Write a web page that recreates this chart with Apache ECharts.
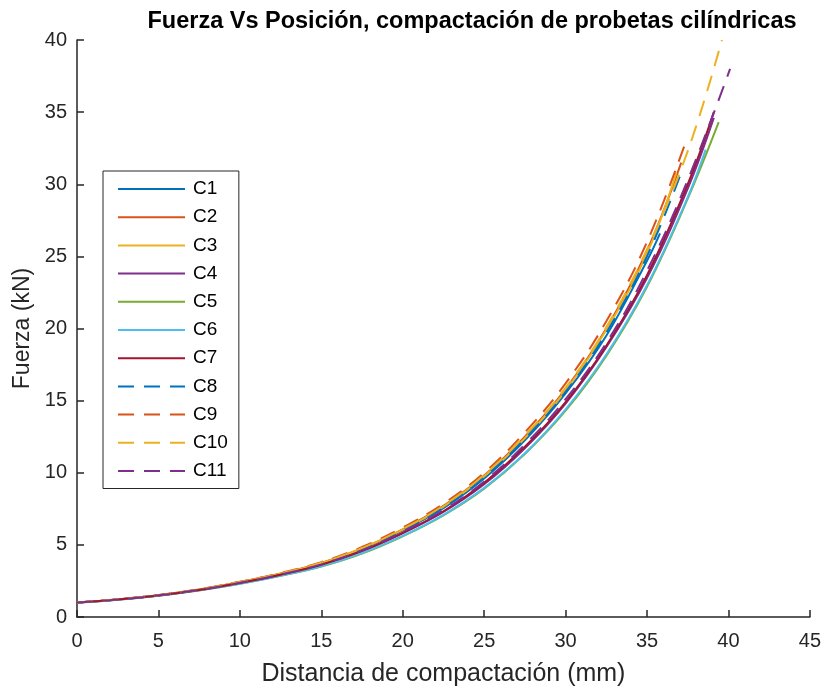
<!DOCTYPE html>
<html>
<head>
<meta charset="utf-8">
<script src="https://cdn.jsdelivr.net/npm/echarts@6/dist/echarts.min.js"></script>
<style>html,body{margin:0;padding:0;background:#fff}#c{width:824px;height:692px}</style>
</head>
<body>
<div id="c"></div>
<script>
// Shared x grid (mm)
const positions = [0, 2.5, 5, 7.5, 10, 12.5, 15, 17.5, 20, 22.5, 25, 27.5, 30, 32.5, 35, 37.5];
const seriesNames = ['C1','C2','C3','C4','C5','C6','C7','C8','C9','C10','C11'];
// Force values (kN) on the grid, one array per specimen
const C1  = [1.0,1.22,1.5,1.89,2.4,2.98,3.7,4.7,6.0,7.55,9.6,12.25,15.5,19.5,24.7];
const C2  = [1.0,1.22,1.51,1.9,2.42,3.01,3.74,4.76,6.08,7.7,9.8,12.5,15.8,20.0,25.4];
const C3  = [1.0,1.22,1.51,1.9,2.42,3.0,3.73,4.75,6.05,7.65,9.75,12.4,15.7,19.9,25.2];
const C4  = [1.0,1.21,1.49,1.87,2.35,2.92,3.6,4.55,5.8,7.28,9.2,11.7,14.8,18.7,23.5,29.7];
const C5  = [1.0,1.2,1.48,1.84,2.3,2.85,3.5,4.4,5.6,7.05,8.9,11.3,14.3,18.1,22.9,29.0];
const C6  = [1.0,1.2,1.48,1.85,2.31,2.86,3.52,4.43,5.62,7.08,8.95,11.35,14.4,18.2,23.0,29.1];
const C7  = [1.0,1.21,1.49,1.87,2.36,2.93,3.62,4.58,5.85,7.33,9.3,11.8,14.9,18.8,23.7,30.0];
const C8  = [1.0,1.22,1.51,1.9,2.41,2.99,3.72,4.72,6.02,7.6,9.7,12.35,15.6,19.7,25.0];
const C9  = [1.0,1.23,1.52,1.92,2.45,3.05,3.8,4.85,6.2,7.85,10.0,12.8,16.2,20.5,26.0];
const C10 = [1.0,1.23,1.51,1.91,2.43,3.02,3.76,4.78,6.1,7.73,9.85,12.6,15.9,20.1,25.5,32.3];
const C11 = [1.0,1.21,1.5,1.88,2.37,2.95,3.65,4.62,5.9,7.4,9.4,11.95,15.1,19.0,24.0,30.3];
// Final recorded point of each specimen [mm, kN]
const endX = [35.8, 37.1, 36.8, 39.1, 39.4, 38.6, 39.1, 37.1, 37.4, 39.6, 40.1];
const endY = [26.6, 31.5, 30.8, 34.6, 34.3, 32.4, 35.0, 30.8, 33.0, 40.0, 38.0];
const xTicks = [0,5,10,15,20,25,30,35,40,45];
const yTicks = [0,5,10,15,20,25,30,35,40];

const values = [C1,C2,C3,C4,C5,C6,C7,C8,C9,C10,C11];
const colors = ['#0072BD','#D95319','#EDB120','#7E2F8E','#77AC30','#4DBEEE','#A2142F','#0072BD','#D95319','#EDB120','#7E2F8E'];

const series = seriesNames.map((n, i) => {
  const data = values[i].map((v, k) => [positions[k], v]);
  data.push([endX[i], endY[i]]);
  return {
    name: n, type: 'line', data: data, smooth: 0.4, symbol: 'none', showSymbol: false,
    lineStyle: { color: colors[i], width: 2, type: i >= 7 ? [16, 10] : 'solid' },
    itemStyle: { color: colors[i] },
    z: 2 + i
  };
});

const txt = '#262626';
const chart = echarts.init(document.getElementById('c'));
chart.setOption({
  animation: false,
  color: colors,
  title: {
    text: 'Fuerza Vs Posición, compactación de probetas cilíndricas',
    left: 467, top: 5, textAlign: 'center',
    textStyle: { fontFamily: 'Liberation Sans', fontWeight: 'bold', fontSize: 23.5, color: '#000' }
  },
  grid: { left: 77, right: 12, top: 40, bottom: 73, containLabel: false },
  legend: {
    data: seriesNames, orient: 'vertical', left: 103, top: 171,
    itemWidth: 67, itemHeight: 14, itemGap: 9.2,
    padding: [8.5, 11, 8, 14],
    itemStyle: { opacity: 0 },
    borderColor: '#262626', borderWidth: 1, backgroundColor: '#fff',
    textStyle: { fontFamily: 'Liberation Sans', fontSize: 19, color: '#000', padding: [0,0,0,3] }
  },
  xAxis: {
    type: 'value', min: 0, max: 45, interval: 5,
    name: 'Distancia de compactación (mm)', nameLocation: 'middle', nameGap: 45,
    nameTextStyle: { fontFamily: 'Liberation Sans', fontSize: 25, color: txt },
    axisLine: { show: true, lineStyle: { color: txt, width: 1.5 } },
    axisTick: { show: true, inside: true, length: 7, lineStyle: { color: txt, width: 1.5 } },
    axisLabel: { fontFamily: 'Liberation Sans', fontSize: 20, color: txt, margin: 14,
      formatter: v => xTicks.includes(v) ? String(v) : '' },
    splitLine: { show: false }
  },
  yAxis: {
    type: 'value', min: 0, max: 40, interval: 5,
    name: 'Fuerza (kN)', nameLocation: 'middle', nameGap: 42, nameRotate: 90,
    nameTextStyle: { fontFamily: 'Liberation Sans', fontSize: 23, color: txt },
    axisLine: { show: true, lineStyle: { color: txt, width: 1.5 } },
    axisTick: { show: true, inside: true, length: 7, lineStyle: { color: txt, width: 1.5 } },
    axisLabel: { fontFamily: 'Liberation Sans', fontSize: 20, color: txt, margin: 10,
      formatter: v => yTicks.includes(v) ? String(v) : '' },
    splitLine: { show: false }
  },
  series: series
});
</script>
</body>
</html>
